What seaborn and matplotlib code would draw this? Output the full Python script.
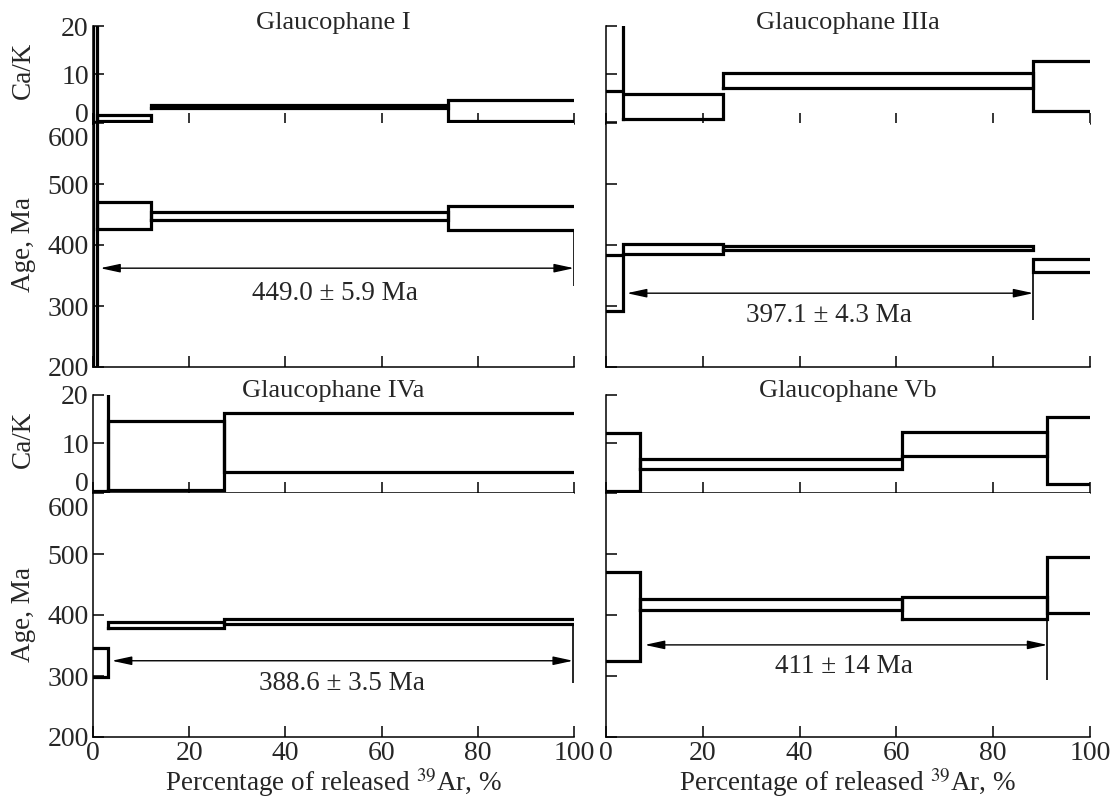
import numpy as np
import pandas as pd
import matplotlib
matplotlib.use("Agg")
import matplotlib.pyplot as plt
import matplotlib.transforms as mtransforms
import seaborn as sns

# ---- step-heating data: cumulative 39Ar release (%) at step boundaries,
# ---- Ca/K and apparent age (Ma) error envelopes for every step
samples = ["Glaucophane I", "Glaucophane IIIa", "Glaucophane IVa", "Glaucophane Vb"]

edges_I = [0, 0.75, 12.1, 73.8, 100]
cak_lo_I = [0.0, 0.3, 3.0, 0.3]
cak_hi_I = [25.0, 1.4, 3.5, 4.5]
age_lo_I = [150, 426, 441, 425]
age_hi_I = [750, 471, 454, 464]

edges_IIIa = [0, 3.6, 24.2, 88.3, 100]
cak_lo_IIIa = [6.5, 0.7, 7.1, 2.3]
cak_hi_IIIa = [25.0, 5.8, 10.2, 12.7]
age_lo_IIIa = [291, 386, 392, 356]
age_hi_IIIa = [384, 401, 399, 377]

edges_IVa = [0, 3.2, 27.2, 100]
cak_lo_IVa = [0.0, 0.2, 4.0]
cak_hi_IVa = [25.0, 14.6, 16.3]
age_lo_IVa = [299, 378, 385]
age_hi_IVa = [346, 388, 393]

edges_Vb = [0, 7.1, 61.1, 91.2, 100]
cak_lo_Vb = [0.0, 4.6, 7.4, 1.4]
cak_hi_Vb = [12.0, 6.7, 12.2, 15.4]
age_lo_Vb = [325, 409, 393, 404]
age_hi_Vb = [471, 427, 429, 495]

# plateau ages and the release interval they span
plateau_labels = ["449.0 ± 5.9 Ma", "397.1 ± 4.3 Ma", "388.6 ± 3.5 Ma", "411 ± 14 Ma"]
plateau_from = [1.5, 4.3, 3.9, 8.0]
plateau_to = [100.0, 88.3, 99.8, 91.2]

x_ticks = [0, 20, 40, 60, 80, 100]
cak_ticks = [0, 10, 20]
age_ticks = [200, 300, 400, 500, 600]

# ---- layout / style
arrow_y = [362, 321, 325, 351]
label_pos = [(50.3, 321), (46.0, 285), (51.8, 288), (49.2, 315)]
marker_bottom = [332, 277, 288, 293]
close_first_left = [True, False, False, False]

sns.set_theme(style="ticks")
plt.rcParams["font.family"] = ["Liberation Serif", "DejaVu Serif"]
plt.rcParams["mathtext.fontset"] = "stix"
plt.rcParams["axes.linewidth"] = 1.1
plt.rcParams["xtick.direction"] = "in"
plt.rcParams["ytick.direction"] = "in"

FS_TICK = 20
FS_LABEL = 19.5
FS_TITLE = 19
FS_NOTE = 19.5
LW = 2.3

fig = plt.figure(figsize=(11.11, 8.0), dpi=100)

col_x = [(93 / 1111, 481 / 1111), (606 / 1111, 484 / 1111)]
row_y = [  # (cak bottom, age bottom, title baseline)
    (1 - 124 / 800, 1 - 367 / 800, 1 - 29 / 800),
    (1 - 493 / 800, 1 - 737 / 800, 1 - 397 / 800),
]
cak_h = 98 / 800
age_h = 244 / 800

datasets = [
    (edges_I, cak_lo_I, cak_hi_I, age_lo_I, age_hi_I),
    (edges_IIIa, cak_lo_IIIa, cak_hi_IIIa, age_lo_IIIa, age_hi_IIIa),
    (edges_IVa, cak_lo_IVa, cak_hi_IVa, age_lo_IVa, age_hi_IVa),
    (edges_Vb, cak_lo_Vb, cak_hi_Vb, age_lo_Vb, age_hi_Vb),
]


def step_outline(edges, lo, hi, left_closed):
    """Box outline for each heating step; the last step is left open on the right."""
    rows = []
    n = len(lo)
    for i in range(n):
        x0, x1 = edges[i], edges[i + 1]
        last = i == n - 1
        if i == 0 and not left_closed:
            pts = [(x0, hi[i]), (x1, hi[i]), (x1, lo[i]), (x0, lo[i])]
        elif last:
            pts = [(x1, hi[i]), (x0, hi[i]), (x0, lo[i]), (x1, lo[i])]
        else:
            pts = [(x0, lo[i]), (x0, hi[i]), (x1, hi[i]), (x1, lo[i]), (x0, lo[i])]
        for x, y in pts:
            rows.append({"x": x, "y": y, "seg": i})
    return pd.DataFrame(rows)


def style_axes(ax):
    for side in ("top", "right"):
        ax.spines[side].set_visible(False)
    for side in ("left", "bottom"):
        ax.spines[side].set_color("black")
    ax.tick_params(axis="both", which="major", length=8, width=1.1,
                   color="black", labelsize=FS_TICK, pad=3)
    ax.set_xlim(0, 100)
    ax.set_facecolor("white")


def draw_steps(ax, edges, lo, hi, left_closed):
    df = step_outline(edges, lo, hi, left_closed)
    sns.lineplot(data=df, x="x", y="y", units="seg", estimator=None, sort=False,
                 color="black", linewidth=LW, ax=ax, legend=False,
                 solid_joinstyle="miter", solid_capstyle="projecting")
    ax.set_xlabel("")
    ax.set_ylabel("")


for k, (edges, clo, chi, alo, ahi) in enumerate(datasets):
    row, col = divmod(k, 2)
    x0, w = col_x[col]
    cak_b, age_b, title_y = row_y[row]

    ax_c = fig.add_axes([x0, cak_b, w, cak_h])
    ax_a = fig.add_axes([x0, age_b, w, age_h])

    for ax in (ax_c, ax_a):
        style_axes(ax)

    draw_steps(ax_c, edges, clo, chi, close_first_left[k])
    draw_steps(ax_a, edges, alo, ahi, close_first_left[k])

    ax_c.set_ylim(-0.4, 20)
    ax_a.set_ylim(200, 600)

    ax_c.set_xticks(x_ticks)
    ax_a.set_xticks(x_ticks)
    ax_c.tick_params(labelbottom=False)

    if col == 0:
        ax_c.set_yticks(cak_ticks, labels=[str(v) for v in cak_ticks])
        ax_a.set_yticks(age_ticks, labels=[str(v) for v in age_ticks])
        lbl0 = ax_c.get_yticklabels()[0]
        lbl0.set_verticalalignment("baseline")
        lbl600 = ax_a.get_yticklabels()[-1]
        lbl600.set_verticalalignment("top")
        lbl600.set_transform(lbl600.get_transform() + mtransforms.ScaledTranslation(
            0, -3 / 72, fig.dpi_scale_trans))
        ax_c.set_ylabel("Ca/K", fontsize=FS_LABEL)
        ax_a.set_ylabel("Age, Ma", fontsize=FS_LABEL)
        ax_c.yaxis.set_label_coords(-0.118, 0.55)
        ax_a.yaxis.set_label_coords(-0.118, 0.5)
    else:
        ax_c.set_yticks(cak_ticks)
        ax_a.set_yticks(age_ticks)
        ax_c.tick_params(labelleft=False)
        ax_a.tick_params(labelleft=False)

    if row == 1:
        ax_a.set_xticklabels([str(v) for v in x_ticks])
        ax_a.set_xlabel(r"Percentage of released $^{39}$Ar, %", fontsize=FS_LABEL,
                        labelpad=0)
    else:
        ax_a.tick_params(labelbottom=False)

    fig.text(x0 + w / 2, title_y, samples[k], ha="center", va="baseline",
             fontsize=FS_TITLE)

    # plateau: arrowed interval, end marker and age
    ya = arrow_y[k]
    ax_a.annotate("", xy=(plateau_to[k], ya), xytext=(plateau_from[k], ya),
                  arrowprops=dict(arrowstyle="<|-|>,head_length=0.6,head_width=0.13",
                                  color="black", lw=1.0, shrinkA=0, shrinkB=0,
                                  mutation_scale=20))
    end = plateau_to[k]
    j = int(np.searchsorted(edges, end, side="left"))
    j = min(max(j, 1), len(alo))
    near = [alo[j - 1]] + ([alo[j]] if j < len(alo) else [])
    ax_a.plot([end, end], [min(near), marker_bottom[k]], color="black", lw=1.2,
              solid_capstyle="butt")
    lx, ly = label_pos[k]
    ax_a.text(lx, ly, plateau_labels[k], ha="center", va="center", fontsize=FS_NOTE)

fig.savefig("out.png", dpi=100, facecolor="white")
